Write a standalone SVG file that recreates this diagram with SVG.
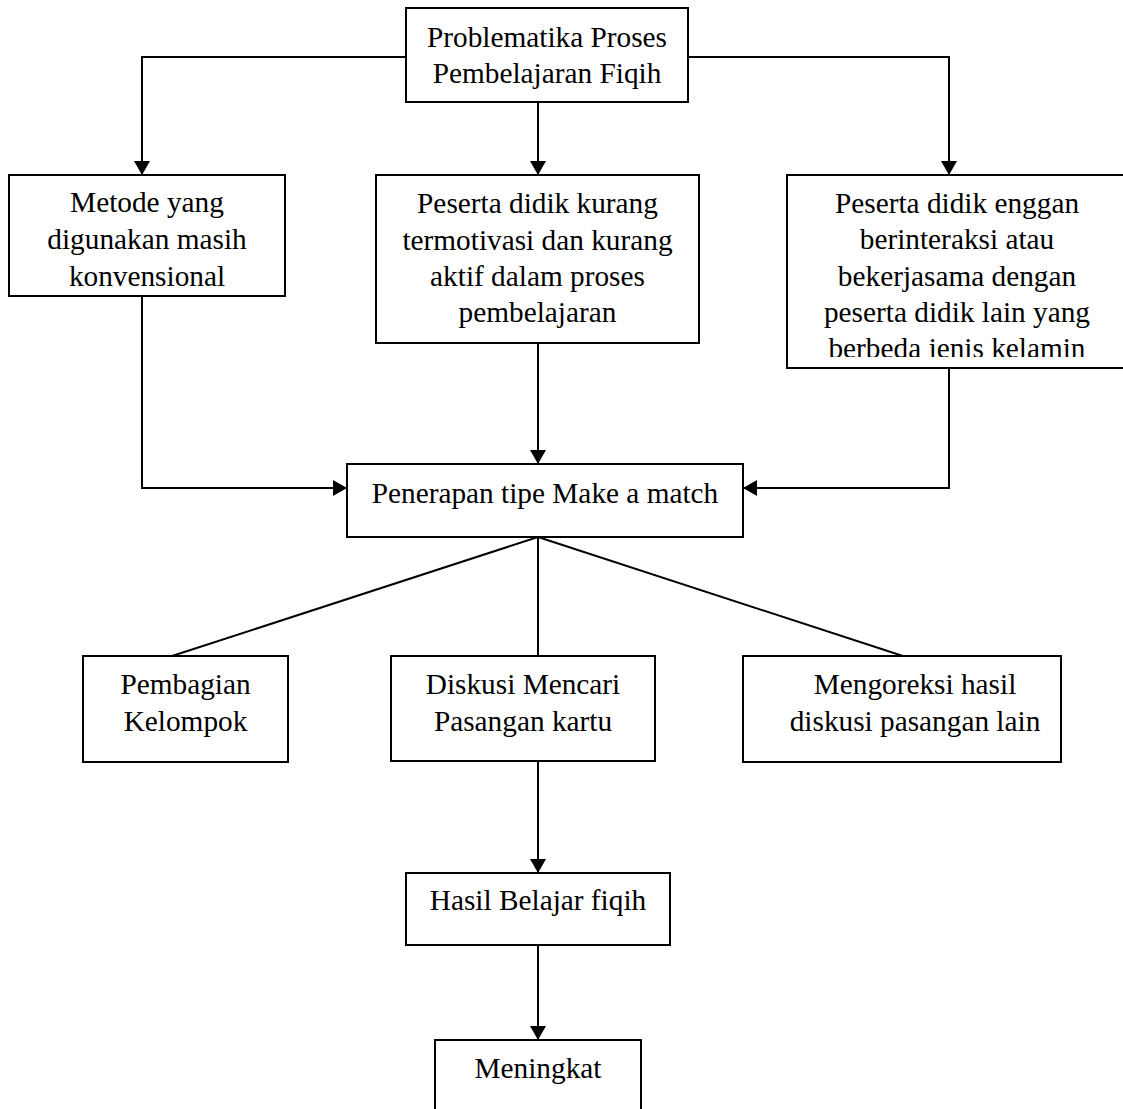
<svg xmlns="http://www.w3.org/2000/svg" width="1123" height="1109" viewBox="0 0 1123 1109">
  <style>
    .box { fill: #ffffff; stroke: #000000; stroke-width: 2; }
    .lbl { font-family: "Liberation Serif", "Times New Roman", serif; font-size: 29.3px; fill: #000000; text-anchor: middle; }
    .conn { fill: none; stroke: #000000; stroke-width: 2; }
    .arr { marker-end: url(#ah); }
  </style>
  <defs>
    <marker id="ah" viewBox="0 0 14 16" refX="14" refY="8" markerWidth="14" markerHeight="16" markerUnits="userSpaceOnUse" orient="auto">
      <path d="M0,0 L14,8 L0,16 Z" fill="#000000"/>
    </marker>
    <clipPath id="clipRight">
      <rect x="787" y="175" width="340" height="182"/>
    </clipPath>
  </defs>
  <rect width="1123" height="1109" fill="#ffffff"/>

  <g id="connectors">
    <path class="conn arr" d="M406,57 L142,57 L142,175"/>
    <path class="conn arr" d="M688,57 L949,57 L949,175"/>
    <path class="conn arr" d="M538,102 L538,175"/>
    <path class="conn arr" d="M142,296 L142,488 L347,488"/>
    <path class="conn arr" d="M949,368 L949,488 L743,488"/>
    <path class="conn arr" d="M538,343 L538,464"/>
    <path class="conn" d="M538,537 L172,656"/>
    <path class="conn" d="M538,537 L538,656"/>
    <path class="conn" d="M538,537 L903,656"/>
    <path class="conn arr" d="M538,761 L538,873"/>
    <path class="conn arr" d="M538,945 L538,1040"/>
  </g>

  <g id="node-problematika">
    <rect class="box" x="406" y="8" width="282" height="94"/>
    <text class="lbl" x="547" y="47">Problematika Proses</text>
    <text class="lbl" x="547" y="83">Pembelajaran Fiqih</text>
  </g>

  <g id="node-metode">
    <rect class="box" x="9" y="175" width="276" height="121"/>
    <text class="lbl" x="147" y="212">Metode yang</text>
    <text class="lbl" x="147" y="249">digunakan masih</text>
    <text class="lbl" x="147" y="286">konvensional</text>
  </g>

  <g id="node-peserta-kurang">
    <rect class="box" x="376" y="175" width="323" height="168"/>
    <text class="lbl" x="537.5" y="213">Peserta didik kurang</text>
    <text class="lbl" x="537.5" y="249.5">termotivasi dan kurang</text>
    <text class="lbl" x="537.5" y="286">aktif dalam proses</text>
    <text class="lbl" x="537.5" y="322">pembelajaran</text>
  </g>

  <g id="node-peserta-enggan">
    <rect class="box" x="787" y="175" width="345" height="193"/>
    <g clip-path="url(#clipRight)">
      <text class="lbl" x="957" y="213">Peserta didik enggan</text>
      <text class="lbl" x="957" y="249">berinteraksi atau</text>
      <text class="lbl" x="957" y="285.5">bekerjasama dengan</text>
      <text class="lbl" x="957" y="322">peserta didik lain yang</text>
      <text class="lbl" x="957" y="358">berbeda jenis kelamin</text>
    </g>
  </g>

  <g id="node-penerapan">
    <rect class="box" x="347" y="464" width="396" height="73"/>
    <text class="lbl" x="545" y="503">Penerapan tipe Make a match</text>
  </g>

  <g id="node-pembagian">
    <rect class="box" x="83" y="656" width="205" height="106"/>
    <text class="lbl" x="185.5" y="694">Pembagian</text>
    <text class="lbl" x="185.5" y="731">Kelompok</text>
  </g>

  <g id="node-diskusi">
    <rect class="box" x="391" y="656" width="264" height="105"/>
    <text class="lbl" x="523" y="694">Diskusi Mencari</text>
    <text class="lbl" x="523" y="731">Pasangan kartu</text>
  </g>

  <g id="node-mengoreksi">
    <rect class="box" x="743" y="656" width="318" height="106"/>
    <text class="lbl" x="915" y="694">Mengoreksi hasil</text>
    <text class="lbl" x="915" y="731">diskusi pasangan lain</text>
  </g>

  <g id="node-hasil">
    <rect class="box" x="406" y="873" width="264" height="72"/>
    <text class="lbl" x="538" y="910">Hasil Belajar fiqih</text>
  </g>

  <g id="node-meningkat">
    <rect class="box" x="435" y="1040" width="206" height="90"/>
    <text class="lbl" x="538" y="1078">Meningkat</text>
  </g>
</svg>
